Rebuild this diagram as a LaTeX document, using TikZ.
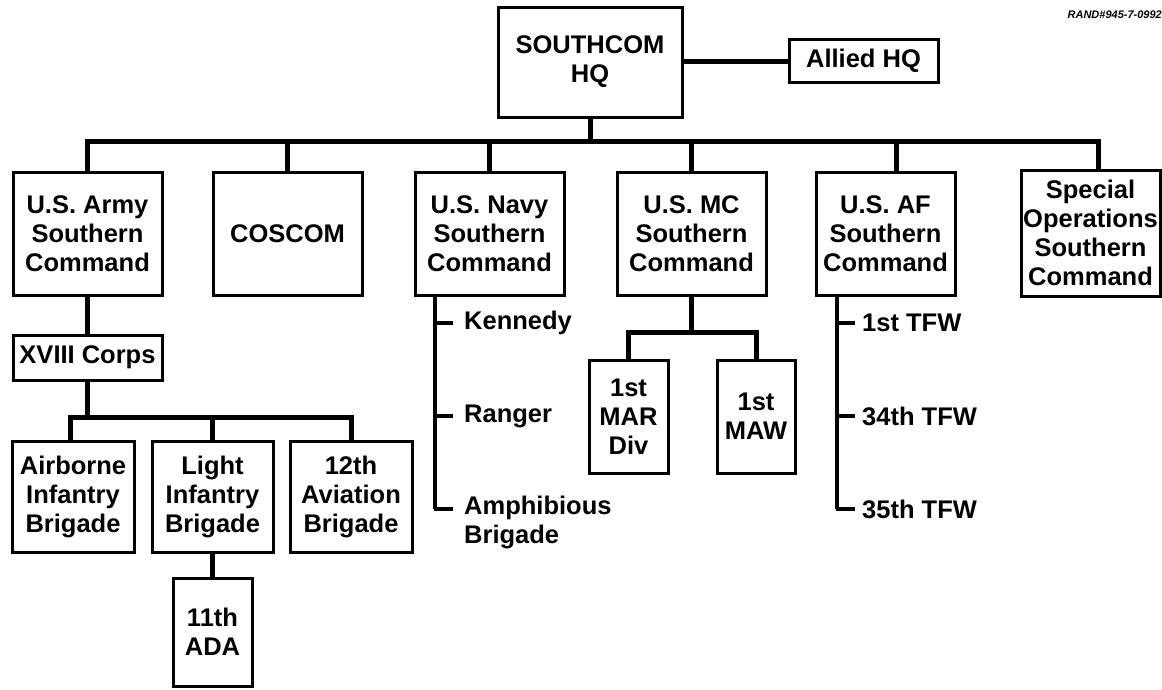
\documentclass[tikz,border=0pt]{standalone}
\usepackage{fontspec}
\setmainfont{Liberation Sans}
\begin{document}
\begin{tikzpicture}[x=1pt,y=-1pt,
  box/.style={draw,line width=3pt,align=center,inner sep=0pt,font=\bfseries\fontsize{25.5}{29}\selectfont},
  lbl/.style={anchor=west,align=left,inner sep=0pt,font=\bfseries\fontsize{25.5}{29}\selectfont},
  conn/.style={line width=5pt},
  tick/.style={line width=3.5pt}]
\useasboundingbox (0,0) rectangle (1162,689);
% top level
\node[box,minimum width=184pt,minimum height=110pt] (hq) at (590,62) {SOUTHCOM\\HQ};
\node[box,minimum width=149pt,minimum height=43pt] (allied) at (863.5,61) {Allied HQ};
\node[anchor=east,inner sep=0pt,font=\bfseries\itshape\fontsize{11}{12}\selectfont] (ref) at (1162,15) {RAND\#945-7-0992};
% second level
\node[box,minimum width=149pt,minimum height=123pt] (army) at (87.5,233.5) {U.S. Army\\Southern\\Command};
\node[box,minimum width=149pt,minimum height=123pt] (coscom) at (287.5,233.5) {COSCOM};
\node[box,minimum width=149pt,minimum height=123pt] (navy) at (489.5,233.5) {U.S. Navy\\Southern\\Command};
\node[box,minimum width=149pt,minimum height=123pt] (mc) at (691.5,233.5) {U.S. MC\\Southern\\Command};
\node[box,minimum width=139pt,minimum height=123pt] (af) at (885.5,233.5) {U.S. AF\\Southern\\Command};
\node[box,minimum width=139pt,minimum height=126pt] (spec) at (1090.5,233) {Special\\Operations\\Southern\\Command};
% army subtree
\node[box,minimum width=149pt,minimum height=45pt] (corps) at (87.5,357.5) {XVIII Corps};
\node[box,minimum width=122pt,minimum height=111pt] (airb) at (73,496.5) {Airborne\\Infantry\\Brigade};
\node[box,minimum width=121pt,minimum height=111pt] (light) at (212.5,496.5) {Light\\Infantry\\Brigade};
\node[box,minimum width=122pt,minimum height=111pt] (avn) at (351,496.5) {12th\\Aviation\\Brigade};
\node[box,minimum width=79pt,minimum height=108pt] (ada) at (212.5,632) {11th\\ADA};
% marine subtree
\node[box,minimum width=79pt,minimum height=113pt] (mar) at (628.5,416.5) {1st\\MAR\\Div};
\node[box,minimum width=78pt,minimum height=113pt] (maw) at (756,416.5) {1st\\MAW};
% navy list
\node[lbl] (ken) at (464,323) {Kennedy};
\node[lbl] (ran) at (464,416) {Ranger};
\node[lbl,anchor=north west] (amp) at (464,496) {Amphibious\\Brigade};
% af list
\node[lbl] (t1) at (862,323) {1st TFW};
\node[lbl] (t34) at (862,416) {34th TFW};
\node[lbl] (t35) at (862,509) {35th TFW};
% connectors top
\draw[conn] (hq.east|-allied.west) -- (allied.west);
\coordinate (bus) at (0,141);
\draw[conn] (hq.south) -- (hq.south|-bus);
\draw[conn] (army.north) |- ([xshift=7.5pt]spec.north|-bus) -- ([xshift=7.5pt]spec.north);
\draw[conn] (coscom.north) -- (coscom.north|-bus);
\draw[conn] (navy.north) -- (navy.north|-bus);
\draw[conn] (mc.north) -- (mc.north|-bus);
\draw[conn] ([xshift=10.5pt]af.north) -- ([xshift=10.5pt]af.north|-bus);
% army
\draw[conn] (army.south) -- (corps.north);
\coordinate (bbus) at (0,417);
\draw[conn] (corps.south) -- (corps.south|-bbus);
\draw[conn] ([xshift=-3pt]airb.north) |- (avn.north|-bbus) -- (avn.north);
\draw[conn] (light.north) -- (light.north|-bbus);
\draw[conn] (light.south) -- (ada.north);
% marine
\coordinate (mbus) at (0,332);
\draw[conn] (mc.south) -- (mc.south|-mbus);
\draw[conn] (mar.north) |- (maw.north|-mbus) -- (maw.north);
% navy
\coordinate (nx) at (435,0);
\draw[line width=4.5pt] (navy.south-|nx) -- (nx|-amp.north west) -- ++(0,13) coordinate (nend);
\draw[tick] (nx|-ken.west) -- ([xshift=-11pt]ken.west);
\draw[tick] (nx|-ran.west) -- ([xshift=-11pt]ran.west);
\draw[tick] ([xshift=-1.5pt]nend) -- ([xshift=-11pt]nend-|amp.west);
% af
\coordinate (ax) at (837,0);
\draw[line width=4.5pt] (af.south-|ax) -- (ax|-t35.west);
\draw[tick] (ax|-t1.west) -- ([xshift=-7pt]t1.west);
\draw[tick] (ax|-t34.west) -- ([xshift=-7pt]t34.west);
\draw[tick] ([xshift=-1.5pt]ax|-t35.west) -- ([xshift=-7pt]t35.west);
\end{tikzpicture}
\end{document}
